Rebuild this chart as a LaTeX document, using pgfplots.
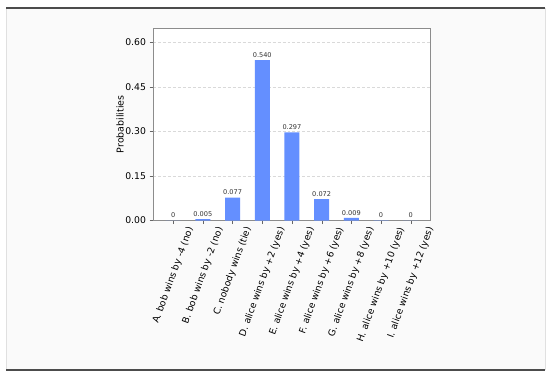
\documentclass[border=0pt]{standalone}
\usepackage{fontspec}
\setmainfont{DejaVu Sans}
\usepackage{graphicx}
\usepackage{pgfplots}
\pgfplotsset{compat=1.18}
\definecolor{barblue}{HTML}{648FFF}

\pgfplotstableread{
x y lab
0 0 0
1 0.005 0.005
2 0.077 0.077
3 0.540 0.540
4 0.297 0.297
5 0.072 0.072
6 0.009 0.009
7 0.0006 0
8 0 0
}\probs

\begin{document}
\begin{tikzpicture}[x=1bp,y=1bp]
\path (0,0) rectangle (550,376);
\fill[black!2] (6,6) rectangle (545,368);
\draw[black!12] (6,6) -- (6,368) (545,6) -- (545,368);
\draw[black!70, line width=1.6bp] (6,368) -- (545,368) (6,6) -- (545,6);
\begin{axis}[
  at={(153bp,155.5bp)}, anchor=south west,
  scale only axis, width=277bp, height=192.5bp,
  axis background/.style={fill=white},
  ybar, bar width=15bp, bar shift=0pt,
  xmin=-0.68, xmax=8.65, ymin=0, ymax=0.648,
  xtick={0,...,8},
  xticklabels={
    \rotatebox{70}{A. bob wins by -4 (no)},
    \rotatebox{70}{B. bob wins by -2 (no)},
    \rotatebox{70}{C. nobody wins (tie)},
    \rotatebox{70}{D. alice wins by +2 (yes)},
    \rotatebox{70}{E. alice wins by +4 (yes)},
    \rotatebox{70}{F. alice wins by +6 (yes)},
    \rotatebox{70}{G. alice wins by +8 (yes)},
    \rotatebox{70}{H. alice wins by +10 (yes)},
    \rotatebox{70}{I. alice wins by +12 (yes)}},
  xticklabel style={anchor=north, inner sep=2bp},
  ytick={0,0.15,0.3,0.45,0.6},
  yticklabel style={/pgf/number format/.cd, fixed, fixed zerofill, precision=2},
  /pgf/number format/assume math mode=true,
  ticklabel style={font=\fontsize{9.3}{11}\selectfont},
  xtick pos=lower, ytick pos=left,
  tick align=outside, major tick length=3.5bp,
  tick style={black!60},
  axis line style={black!45},
  ymajorgrids, grid style={densely dashed, black!15},
  ylabel={Probabilities},
  ylabel style={font=\fontsize{9.5}{11}\selectfont,
    at={(axis description cs:-0.119,0.5)}, anchor=center},
  point meta=explicit symbolic,
  nodes near coords,
  nodes near coords style={font=\fontsize{6.6}{7}\selectfont, text=black!80, inner sep=2.5bp},
]
\addplot[fill=barblue, draw=none] table[x=x, y=y, meta=lab] {\probs};
\end{axis}
\end{tikzpicture}
\end{document}
